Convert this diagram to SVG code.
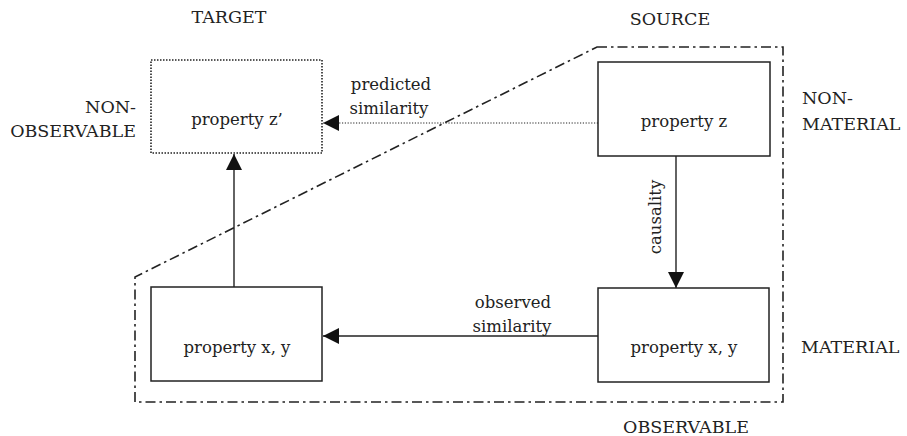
<svg xmlns="http://www.w3.org/2000/svg" width="907" height="436" viewBox="0 0 907 436">
  <style>
    .lbl { font-size: 16.5px; }
    .cap { font-size: 17.5px; }
    .box { fill: #fff; stroke: #222; stroke-width: 1.5; }
    .dotbox { fill: #fff; stroke: #222; stroke-width: 1.6; stroke-dasharray: 1.5 1.5; }
    .conn { fill: none; stroke: #222; stroke-width: 1.4; }
    .dotted { fill: none; stroke: #222; stroke-width: 1; stroke-dasharray: 1.2 1.6; }
    .frame { fill: none; stroke: #222; stroke-width: 1.6; stroke-dasharray: 10 4 2.5 4; }
  </style>
  <defs>
    <marker id="arr" viewBox="0 0 16 16" refX="16" refY="8" markerWidth="16" markerHeight="16" markerUnits="userSpaceOnUse" orient="auto">
      <path d="M0,0 L16,8 L0,16 Z" fill="#111"/>
    </marker>
  </defs>

  <g font-family="'DejaVu Serif', 'Liberation Serif', serif" fill="#222">
  <g id="frame">
    <path class="frame" d="M597,47 L783,47 L783,402 L135,402 L135,277 Z"/>
  </g>

  <g id="headings">
    <text class="cap" x="229" y="23" text-anchor="middle">TARGET</text>
    <text class="cap" x="670" y="25" text-anchor="middle">SOURCE</text>
    <text class="cap" x="136" y="113" text-anchor="end">NON-</text>
    <text class="cap" x="136" y="137" text-anchor="end">OBSERVABLE</text>
    <text class="cap" x="802" y="104">NON-</text>
    <text class="cap" x="802" y="130">MATERIAL</text>
    <text class="cap" x="801" y="353">MATERIAL</text>
    <text class="cap" x="686" y="433" text-anchor="middle">OBSERVABLE</text>
  </g>

  <g id="connectors">
    <line class="dotted" x1="598" y1="123" x2="323" y2="123" marker-end="url(#arr)"/>
    <line class="conn" x1="676" y1="156" x2="676" y2="288" marker-end="url(#arr)"/>
    <line class="conn" x1="598" y1="336" x2="323" y2="336" marker-end="url(#arr)"/>
    <line class="conn" x1="234" y1="287" x2="234" y2="154" marker-end="url(#arr)"/>
    <text class="lbl" x="391" y="90" text-anchor="middle">predicted</text>
    <text class="lbl" x="389" y="114" text-anchor="middle">similarity</text>
    <text class="lbl" x="513" y="308" text-anchor="middle">observed</text>
    <text class="lbl" x="512" y="332" text-anchor="middle">similarity</text>
    <text class="lbl" x="661" y="217" text-anchor="middle" font-size="16" transform="rotate(-90 661 217)">causality</text>
  </g>

  <g id="target-z">
    <rect class="dotbox" x="151" y="60" width="171" height="93"/>
    <text class="lbl" x="237" y="125" text-anchor="middle">property z’</text>
  </g>

  <g id="source-z">
    <rect class="box" x="598" y="62" width="172" height="94"/>
    <text class="lbl" x="684" y="127" text-anchor="middle">property z</text>
  </g>

  <g id="target-xy">
    <rect class="box" x="151" y="287" width="171" height="94"/>
    <text class="lbl" x="237" y="353" text-anchor="middle">property x, y</text>
  </g>

  <g id="source-xy">
    <rect class="box" x="598" y="288" width="171" height="94"/>
    <text class="lbl" x="684" y="353" text-anchor="middle">property x, y</text>
  </g>
  </g>
</svg>
